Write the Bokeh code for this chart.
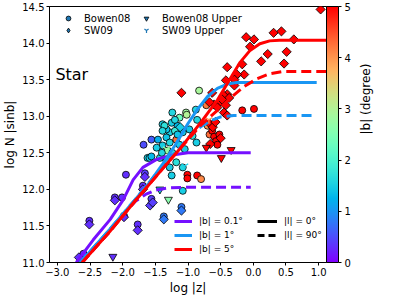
import math
from bokeh.plotting import figure
from bokeh.models import (ColumnDataSource, LinearColorMapper, ColorBar, FixedTicker,
                          Legend, LegendItem, Label, Range1d, LinearAxis)
from bokeh.transform import transform
from bokeh.embed import file_html
from bokeh.resources import INLINE

# ---------------- data ----------------
x_ticks = [-3.0, -2.5, -2.0, -1.5, -1.0, -0.5, 0.0, 0.5, 1.0]
x_tick_labels = ["\u22123.0", "\u22122.5", "\u22122.0", "\u22121.5", "\u22121.0", "\u22120.5", "0.0", "0.5", "1.0"]
y_ticks = [11.0, 11.5, 12.0, 12.5, 13.0, 13.5, 14.0, 14.5]
y_tick_labels = ["11.0", "11.5", "12.0", "12.5", "13.0", "13.5", "14.0", "14.5"]
cb_ticks = [0, 1, 2, 3, 4, 5]
cb_label = "|b| (degree)"

# Bowen08 detections (circles)
bowen_x = [-2.51, -2.60, -2.12, -2.01, -1.98, -1.95, -1.77, -1.69, -1.66, -1.56, -1.37, -1.10,
           -1.68, -1.56, -1.46, -1.62, -1.39, -1.24, -1.13, -1.03, -0.88, -1.28,
           -1.33, -1.36, -1.25, -1.16, -1.39, -1.20, -1.08, -1.33, -1.28, -1.39,
           -1.18, -1.13, -1.31, -1.24, -1.59, -1.43, -1.33, -1.18, -1.08, -1.28,
           -1.25, -1.01, -1.01, -0.86, -0.83, -0.72, -0.70, -0.67, -0.87, -0.86,
           -0.98, -0.93, -1.02, -0.80, -1.16, -1.56, -1.40, -1.48, -0.17, 0.01,
           -0.63, -0.60, -0.57, -0.52, -0.55, -1.08, -1.20, -1.05]
bowen_y = [11.57, 11.12, 11.89, 11.89, 11.64, 12.20, 11.52, 12.05, 12.22, 11.87, 11.63, 11.76,
           12.61, 12.68, 12.68, 12.43, 12.89, 13.05, 12.98, 13.05, 13.09, 12.78,
           12.82, 12.87, 12.91, 12.87, 12.80, 12.80, 12.78, 12.71, 12.64, 12.60,
           12.68, 12.61, 12.53, 12.50, 12.43, 12.43, 12.39, 12.37, 12.30, 12.30,
           12.19, 12.20, 12.15, 12.19, 13.35, 13.15, 12.87, 12.75, 12.64, 12.95,
           12.82, 12.73, 13.02, 12.14, 12.75, 12.45, 12.50, 12.57, 13.08, 13.10,
           12.80, 12.72, 12.66, 12.75, 12.61, 11.98, 12.95, 12.55]
bowen_b = [0.3, 0.3, 0.3, 0.3, 0.3, 0.3, 0.3, 0.3, 0.4, 0.4, 0.8, 0.8,
           0.5, 0.6, 1.2, 1.5, 1.5, 1.6, 2.3, 2.8, 1.6, 1.5,
           1.4, 1.7, 1.5, 1.3, 1.6, 1.8, 1.5, 1.4, 1.6, 1.5,
           4.3, 1.5, 2.6, 1.7, 1.5, 1.6, 1.4, 1.7, 1.6, 1.5,
           1.5, 5.5, 5.5, 5.5, 2.9, 4.2, 4.0, 4.3, 1.5, 1.6,
           1.4, 1.7, 3.0, 4.1, 1.4, 1.3, 1.6, 1.5, 5.5, 5.5,
           5.5, 5.5, 5.5, 5.5, 5.5, 1.5, 1.6, 1.5]

# SW09 detections (diamonds)
sw_x = [-2.51, -2.67, -2.12, -1.98, -1.77, -1.69, -1.66, -1.58, -1.54, -1.37, -1.10, -1.10,
        -0.40, -0.26, -0.14, -0.29, -0.40, -0.45, -0.37, -0.48, -0.52, -0.60, -0.55, -0.42,
        -0.45, -0.40, -0.11, 0.01, -0.05, 0.31, 0.43, 0.62, 0.22, 0.51, 0.12, 0.47,
        1.03, -0.17, -0.25, -0.29, -0.42, -0.63, -0.67, -0.48, -0.67, -0.62, -0.58, -0.50,
        -1.12, -0.66]
sw_y = [11.52, 11.07, 11.85, 11.62, 11.44, 12.00, 12.17, 11.78, 11.82, 11.59, 11.71, 13.32,
        13.67, 13.56, 13.57, 13.42, 13.30, 13.28, 13.25, 13.21, 13.19, 13.16, 13.12, 13.15,
        13.05, 13.01, 14.08, 14.05, 13.95, 14.14, 14.16, 14.05, 13.85, 13.88, 13.75, 13.72,
        14.46, 13.71, 13.57, 13.50, 13.49, 13.32, 13.19, 13.23, 12.90, 12.85, 12.92, 12.70,
        12.85, 12.62]
sw_b = [0.3, 0.3, 0.3, 0.3, 0.3, 0.3, 0.3, 0.4, 0.4, 0.8, 0.8, 5.5,
        5.5, 5.5, 5.5, 5.5, 5.5, 5.5, 5.5, 5.5, 5.5, 5.5, 5.5, 5.5,
        5.5, 5.5, 5.5, 5.5, 5.5, 5.5, 5.5, 5.5, 5.5, 5.5, 5.5, 5.5,
        5.5, 5.5, 5.5, 5.5, 5.5, 5.5, 5.5, 5.5, 5.5, 5.5, 5.5, 5.5,
        1.5, 5.5]

# Upper limits
bu_x = [-2.15, -1.43, -1.30, -0.72, -0.34, -0.49]
bu_y = [11.08, 12.00, 11.86, 12.57, 12.54, 12.43]
bu_b = [0.3, 1.5, 2.6, 5.5, 5.5, 5.5]
su_x = [-1.05, -0.68, -1.33]
su_y = [12.32, 12.95, 12.55]
su_b = [1.5, 4.0, 2.8]

# Model curves
m01_l0_x = [-2.71, -2.45, -2.19, -1.99, -1.84, -1.69, -1.48, -1.24, -1.0, -0.5, -0.04]
m01_l0_y = [11.0, 11.31, 11.59, 11.86, 12.13, 12.30, 12.41, 12.47, 12.50, 12.50, 12.50]
m01_l90_x = [-2.62, -2.2, -1.95, -1.8, -1.65, -1.5, -1.3, -1.0, -0.5, -0.04]
m01_l90_y = [11.0, 11.42, 11.70, 11.84, 11.93, 11.99, 12.02, 12.03, 12.03, 12.03]
m1_l0_x = [-2.65, -2.2, -1.8, -1.6, -1.4, -1.2, -1.0, -0.85, -0.7, -0.55, -0.4, -0.25, 0.0, 0.5, 0.97]
m1_l0_y = [11.0, 11.45, 11.87, 12.08, 12.33, 12.60, 12.90, 13.10, 13.27, 13.38, 13.44, 13.46, 13.46, 13.46, 13.46]
m1_l90_x = [-2.65, -2.2, -1.8, -1.5, -1.3, -1.1, -0.95, -0.8, -0.65, -0.5, -0.3, 0.95]
m1_l90_y = [11.0, 11.45, 11.87, 12.20, 12.40, 12.60, 12.75, 12.86, 12.94, 12.99, 13.01, 13.01]
m5_l0_x = [-2.62, -2.2, -1.8, -1.4, -1.1, -0.8, -0.55, -0.35, -0.2, -0.05, 0.1, 0.25, 0.4, 0.6, 1.12]
m5_l0_y = [11.0, 11.42, 11.85, 12.27, 12.58, 12.92, 13.22, 13.52, 13.74, 13.90, 13.99, 14.03, 14.04, 14.04, 14.04]
m5_l90_x = [-2.62, -2.2, -1.8, -1.4, -1.1, -0.8, -0.55, -0.35, -0.15, 0.05, 0.25, 0.45, 1.12]
m5_l90_y = [11.0, 11.42, 11.85, 12.27, 12.58, 12.88, 13.08, 13.25, 13.40, 13.51, 13.58, 13.61, 13.61]


# ---------------- style helpers ----------------
def rainbow(t):
    t = min(max(t, 0.0), 1.0)
    r = min(1.0, abs(2 * t - 0.5))
    g = math.sin(math.pi * t)
    b = math.cos(math.pi * t / 2)
    return "#%02x%02x%02x" % (int(round(r * 255)), int(round(g * 255)), int(round(b * 255)))


palette = [rainbow(i / 255) for i in range(256)]
B_MAX = 5.0
mapper = LinearColorMapper(palette=palette, low=0, high=B_MAX)
FONT = "DejaVu Sans"
FW, FH = 277, 256
NAN = [float("nan")]
DIAMOND = dict(marker="square", size=6.5, angle=math.pi / 4)

p = figure(frame_width=FW, frame_height=FH,
           x_range=Range1d(-3.12, 1.12), y_range=Range1d(11.0, 14.5),
           output_backend="svg", toolbar_location=None,
           min_border_top=6, min_border_left=0, min_border_bottom=0, min_border_right=0)
p.xgrid.visible = False
p.ygrid.visible = False
p.outline_line_color = "black"
p.outline_line_width = 1
p.background_fill_color = "white"

p.xaxis.ticker = FixedTicker(ticks=x_ticks)
p.yaxis.ticker = FixedTicker(ticks=y_ticks)
p.xaxis.major_label_overrides = {t: l for t, l in zip(x_ticks, x_tick_labels)}
p.yaxis.major_label_overrides = {t: l for t, l in zip(y_ticks, y_tick_labels)}
for ax in (p.xaxis[0], p.yaxis[0]):
    ax.major_tick_in = 0
    ax.major_tick_out = 3
    ax.minor_tick_in = 0
    ax.minor_tick_out = 0
    ax.major_label_text_font = FONT
    ax.major_label_text_font_size = "10px"
    ax.major_label_text_color = "black"
    ax.axis_line_color = "black"
    ax.major_tick_line_color = "black"
    ax.axis_label_text_font = FONT
    ax.axis_label_text_font_size = "12px"
    ax.axis_label_text_font_style = "normal"
    ax.axis_label_text_color = "black"
    ax.major_label_standoff = 2
    ax.axis_label_standoff = 2
p.xaxis.axis_label = "log |z|"
p.yaxis.axis_label = "log N |sinb|"

# scatter data
src_bowen = ColumnDataSource(dict(x=bowen_x, y=bowen_y, b=bowen_b))
src_sw = ColumnDataSource(dict(x=sw_x, y=sw_y, b=sw_b))
src_bu = ColumnDataSource(dict(x=bu_x, y=bu_y, b=bu_b))
src_su = ColumnDataSource(dict(x=su_x, y=su_y, b=su_b))

p.scatter("x", "y", source=src_bowen, marker="circle", size=7,
          fill_color=transform("b", mapper), line_color="black", line_width=0.8)
p.scatter("x", "y", source=src_sw, **DIAMOND,
          fill_color=transform("b", mapper), line_color="black", line_width=0.8)
p.scatter("x", "y", source=src_bu, marker="inverted_triangle", size=8,
          fill_color=transform("b", mapper), line_color="black", line_width=0.8)
p.scatter("x", "y", source=src_su, marker="y", size=8,
          line_color=transform("b", mapper), line_width=1.2)

# model curves
c01 = rainbow(0.1 / B_MAX)
c1 = rainbow(1.0 / B_MAX)
c5 = rainbow(5.0 / B_MAX)
LW = 3
DASH = "10 5"
r01 = p.line(m01_l0_x, m01_l0_y, line_color=c01, line_width=LW)
p.line(m01_l90_x, m01_l90_y, line_color=c01, line_width=LW, line_dash=DASH)
r1 = p.line(m1_l0_x, m1_l0_y, line_color=c1, line_width=LW)
p.line(m1_l90_x, m1_l90_y, line_color=c1, line_width=LW, line_dash=DASH)
r5 = p.line(m5_l0_x, m5_l0_y, line_color=c5, line_width=LW)
p.line(m5_l90_x, m5_l90_y, line_color=c5, line_width=LW, line_dash=DASH)
# legend-only proxies (a single NaN point, so nothing is drawn in the plot)
rl0 = p.line(NAN, NAN, line_color="black", line_width=LW)
rl90 = p.line(NAN, NAN, line_color="black", line_width=LW, line_dash="7 4")

LEG_C = "#1f77b4"
pb = p.scatter(NAN, NAN, marker="circle", size=7, fill_color=LEG_C, line_color="black", line_width=0.8)
ps = p.scatter(NAN, NAN, marker="diamond", size=11, fill_color=LEG_C, line_color="black", line_width=0.8)
pbu = p.scatter(NAN, NAN, marker="inverted_triangle", size=8, fill_color=LEG_C, line_color="black", line_width=0.8)
psu = p.scatter(NAN, NAN, marker="y", size=8, line_color=LEG_C, line_width=1.2)


def make_legend(items, loc, gw, gh, fs, standoff):
    return Legend(items=[LegendItem(label=l, renderers=[r]) for l, r in items],
                  location=loc, margin=0, padding=4, spacing=0,
                  glyph_width=gw, glyph_height=gh, label_height=gh,
                  label_standoff=standoff,
                  label_text_font=FONT, label_text_font_size=fs,
                  label_text_color="black",
                  border_line_color=None, background_fill_alpha=0)


p.add_layout(make_legend([("Bowen08", pb), ("SW09", ps)], (7, FH - 30), 24, 12, "10px", 4), "center")
p.add_layout(make_legend([("Bowen08 Upper", pbu), ("SW09 Upper", psu)], (85, FH - 30), 24, 12, "10px", 4), "center")
p.add_layout(make_legend([("|b| = 0.1\u00b0", r01), ("|b| = 1\u00b0", r1), ("|b| = 5\u00b0", r5)],
                         (125, 6), 18, 14, "9px", 7), "center")
p.add_layout(make_legend([("|l| = 0\u00b0", rl0), ("|l| = 90\u00b0", rl90)],
                         (208, 20), 20, 14, "9px", 7), "center")

p.add_layout(Label(x=-3.03, y=13.57, text="Star", text_font=FONT, text_font_size="16px",
                   text_baseline="middle", text_color="black"))

cb = ColorBar(color_mapper=mapper, ticker=FixedTicker(ticks=cb_ticks), width=12,
              padding=0, margin=19, label_standoff=3,
              major_label_text_font=FONT, major_label_text_font_size="10px",
              major_label_text_color="black",
              major_tick_in=0, major_tick_out=3, major_tick_line_color="black",
              minor_tick_line_color=None,
              bar_line_color="black", border_line_color=None, background_fill_alpha=0)
p.add_layout(cb, "right")

# colour-bar caption, written as the single (rotated) label of an otherwise bare axis
p.extra_y_ranges = {"cbl": Range1d(0, 1)}
cap = LinearAxis(y_range_name="cbl", ticker=FixedTicker(ticks=[0.5]),
                 major_label_overrides={0.5: cb_label},
                 major_label_orientation=math.pi / 2,
                 major_label_standoff=12,
                 major_label_text_font=FONT, major_label_text_font_size="12px",
                 major_label_text_color="black",
                 axis_line_color=None, major_tick_line_color=None, minor_tick_line_color=None,
                 major_tick_in=0, major_tick_out=0)
p.add_layout(cap, "right")

open("out.html", "w").write(file_html(p, INLINE))
